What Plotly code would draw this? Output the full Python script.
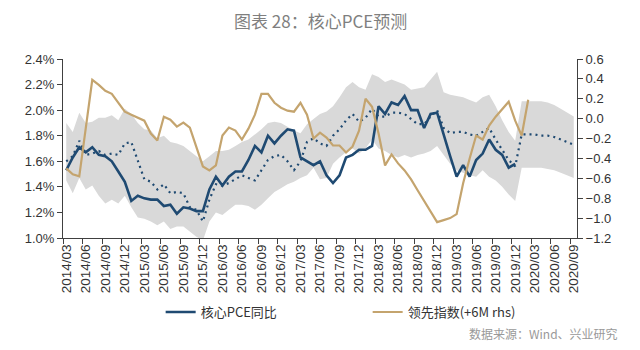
import plotly.graph_objects as go

# ---------------- data ----------------
all_months = [f"{y}/{m:02d}" for y in range(2014, 2021) for m in range(1, 13)]
months = all_months[all_months.index("2014/03"): all_months.index("2020/09") + 1]

# Core PCE YoY (%), 2014/03 - 2019/12
core_pce = [1.53, 1.63, 1.71, 1.67, 1.71, 1.65, 1.64, 1.60, 1.52, 1.44,
            1.29, 1.33, 1.31, 1.30, 1.30, 1.25, 1.26, 1.19, 1.24, 1.23,
            1.21, 1.21, 1.38, 1.48, 1.41, 1.48, 1.52, 1.52, 1.61, 1.72,
            1.67, 1.80, 1.74, 1.80, 1.85, 1.84, 1.63, 1.60, 1.57, 1.60,
            1.49, 1.43, 1.49, 1.63, 1.65, 1.69, 1.69, 1.72, 2.03, 1.97,
            2.06, 2.04, 2.11, 2.00, 2.00, 1.86, 1.97, 1.98, 1.80, 1.64,
            1.48, 1.57, 1.48, 1.61, 1.66, 1.77, 1.69, 1.65, 1.55, 1.58]

# Model prediction (dotted), 2014/03 - 2020/09
prediction = [1.60, 1.64, 1.76, 1.65, 1.66, 1.68, 1.65, 1.66, 1.65, 1.74,
              1.75, 1.60, 1.46, 1.44, 1.38, 1.42, 1.35, 1.36, 1.35, 1.24,
              1.22, 1.13, 1.30, 1.42, 1.41, 1.43, 1.46, 1.49, 1.47, 1.45,
              1.53, 1.61, 1.64, 1.65, 1.60, 1.53, 1.60, 1.75, 1.78, 1.74,
              1.72, 1.80, 1.85, 1.92, 1.97, 1.91, 1.94, 2.01, 1.95, 1.95,
              1.98, 1.98, 1.97, 1.93, 1.89, 1.89, 1.95, 2.00, 1.86, 1.82,
              1.83, 1.83, 1.81, 1.80, 1.83, 1.86, 1.77, 1.69, 1.61, 1.56,
              1.81, 1.81, 1.81, 1.80, 1.80, 1.79, 1.77, 1.75, 1.73]

# Prediction interval
band_upper = [1.90, 1.83, 1.98, 1.90, 1.91, 1.94, 1.94, 1.96, 1.92, 2.01,
              1.97, 1.90, 1.85, 1.84, 1.78, 1.80, 1.75, 1.74, 1.72, 1.68,
              1.64, 1.60, 1.64, 1.68, 1.68, 1.69, 1.72, 1.75, 1.77, 1.81,
              1.85, 1.90, 1.91, 1.90, 1.87, 1.84, 1.82, 1.89, 1.93, 1.97,
              1.99, 2.03, 2.10, 2.18, 2.22, 2.18, 2.16, 2.28, 2.26, 2.22,
              2.24, 2.22, 2.20, 2.16, 2.17, 2.18, 2.24, 2.30, 2.14, 2.12,
              2.11, 2.10, 2.08, 2.06, 2.10, 2.12, 2.03, 1.92, 1.83, 1.76,
              2.07, 2.07, 2.07, 2.07, 2.06, 2.04, 2.01, 1.98, 1.95]
band_lower = [1.45, 1.35, 1.47, 1.38, 1.41, 1.33, 1.27, 1.30, 1.27, 1.33,
              1.24, 1.16, 1.15, 1.13, 1.10, 1.13, 1.07, 1.09, 1.09, 1.05,
              1.01, 0.98, 1.13, 1.20, 1.18, 1.22, 1.26, 1.26, 1.25, 1.22,
              1.26, 1.31, 1.36, 1.39, 1.42, 1.44, 1.47, 1.49, 1.55, 1.46,
              1.47, 1.58, 1.63, 1.67, 1.70, 1.66, 1.70, 1.77, 1.70, 1.68,
              1.65, 1.63, 1.65, 1.63, 1.65, 1.66, 1.68, 1.72, 1.65, 1.58,
              1.53, 1.51, 1.49, 1.48, 1.53, 1.48, 1.45, 1.40, 1.34, 1.29,
              1.55, 1.55, 1.55, 1.55, 1.54, 1.53, 1.51, 1.49, 1.47]

# Leading index (+6M, rhs), 2014/03 - 2020/02
leading_index = [-0.50, -0.56, -0.58, -0.10, 0.39, 0.34, 0.28, 0.25, 0.16, 0.07,
                 0.04, 0.01, -0.02, -0.15, -0.22, 0.02, -0.01, -0.08, -0.04, -0.09,
                 -0.28, -0.48, -0.52, -0.47, -0.17, -0.09, -0.12, -0.21, -0.10, 0.04,
                 0.25, 0.25, 0.16, 0.11, 0.08, 0.07, 0.16, 0.04, -0.20, -0.14,
                 -0.19, -0.27, -0.27, -0.34, -0.28, -0.12, 0.20, 0.12, -0.15, -0.47,
                 -0.36, -0.45, -0.52, -0.61, -0.72, -0.83, -0.93, -1.04, -1.02, -1.00,
                 -0.96, -0.65, -0.40, -0.17, -0.21, -0.07, 0.02, 0.10, 0.17, -0.02,
                 -0.17, 0.19]

left_ticks = [1.0, 1.2, 1.4, 1.6, 1.8, 2.0, 2.2, 2.4]
left_labels = ["1.0%", "1.2%", "1.4%", "1.6%", "1.8%", "2.0%", "2.2%", "2.4%"]
right_ticks = [-1.2, -1.0, -0.8, -0.6, -0.4, -0.2, 0.0, 0.2, 0.4, 0.6]
right_labels = ["−1.2", "−1.0", "−0.8", "−0.6", "−0.4", "−0.2", "0.0", "0.2", "0.4", "0.6"]

NAVY = "#1F4A72"
TAN = "#C4A46E"
BAND = "#D9D9D9"
AXIS = "#404040"

fig = go.Figure()
fig.add_trace(go.Scatter(x=months, y=band_lower, mode="lines", line=dict(width=0),
                         showlegend=False, hoverinfo="skip"))
fig.add_trace(go.Scatter(x=months, y=band_upper, mode="lines", line=dict(width=0),
                         fill="tonexty", fillcolor=BAND, showlegend=False, hoverinfo="skip"))
fig.add_trace(go.Scatter(x=months, y=prediction, mode="lines",
                         line=dict(color=NAVY, width=2.2, dash="2px,4px"),
                         showlegend=False))
fig.add_trace(go.Scatter(x=months[:len(core_pce)], y=core_pce, mode="lines",
                         name="核心PCE同比", legendrank=1,
                         line=dict(color=NAVY, width=2.6)))
fig.add_trace(go.Scatter(x=months[:len(leading_index)], y=leading_index, mode="lines",
                         name="领先指数(+6M rhs)", yaxis="y2", legendrank=2,
                         line=dict(color=TAN, width=2.2)))

tick_font = dict(family="Liberation Sans", size=13, color="#333333")
x_tick_font = dict(family="Liberation Sans", size=13.5, color="#333333")

fig.update_layout(
    width=640, height=350,
    margin=dict(l=63, r=63, t=59, b=112),
    paper_bgcolor="white", plot_bgcolor="white",
    showlegend=True,
    legend=dict(orientation="h", x=0.19, y=-0.33, xanchor="left", yanchor="top",
                traceorder="normal",
                entrywidth=162, entrywidthmode="pixels",
                font=dict(family="Noto Sans CJK SC", size=13, color="#333333"),
                bgcolor="rgba(0,0,0,0)"),
    xaxis=dict(type="category", range=[-0.5, len(months) - 0.5],
               tickmode="linear", tick0=0, dtick=3, tickson="boundaries",
               ticks="outside", ticklen=5, tickcolor=AXIS, tickangle=-90,
               showline=True, linecolor=AXIS, linewidth=1, showgrid=False,
               tickfont=x_tick_font),
    yaxis=dict(range=[1.0, 2.4], tickmode="array", tickvals=left_ticks, ticktext=left_labels,
               ticks="outside", ticklen=5, tickcolor=AXIS,
               showline=True, linecolor=AXIS, linewidth=1, showgrid=False,
               zeroline=False, tickfont=tick_font),
    yaxis2=dict(range=[-1.2, 0.6], tickmode="array", tickvals=right_ticks, ticktext=right_labels,
                overlaying="y", side="right",
                ticks="outside", ticklen=5, tickcolor=AXIS,
                showline=True, linecolor=AXIS, linewidth=1, showgrid=False,
                zeroline=False, tickfont=tick_font),
    annotations=[
        dict(text="图表 28：核心PCE预测", x=0.5, y=(238 - 20) / 179, xref="paper", yref="paper",
             xanchor="center", yanchor="middle", showarrow=False,
             font=dict(family="Noto Sans CJK SC", size=17, color="#7F7F7F")),
        dict(text="数据来源：Wind、兴业研究", x=1.084, y=-0.531, xref="paper", yref="paper",
             xanchor="right", yanchor="middle", showarrow=False,
             font=dict(family="Noto Sans CJK SC", size=12, color="#999999")),
    ],
)

fig.write_html("out.html")
